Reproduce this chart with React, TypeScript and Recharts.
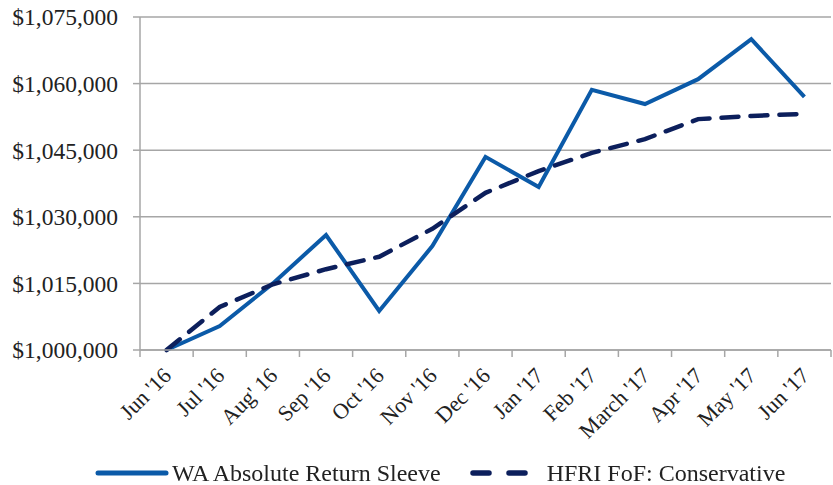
import { LineChart, Line, XAxis, YAxis, CartesianGrid, Legend } from "recharts";

const months = [
  "Jun '16", "Jul '16", "Aug' 16", "Sep '16", "Oct '16", "Nov '16", "Dec '16",
  "Jan '17", "Feb '17", "March '17", "Apr '17", "May '17", "Jun '17",
];

const waSleeve = [
  1000000, 1005400, 1015000, 1025900, 1008800, 1023400, 1043500,
  1036700, 1058600, 1055400, 1061000, 1070000, 1057000,
];

const hfriConservative = [
  1000000, 1009700, 1014800, 1018200, 1021000, 1027300, 1035400,
  1040300, 1044400, 1047500, 1052000, 1052700, 1053200,
];

const yTicks = [1000000, 1015000, 1030000, 1045000, 1060000, 1075000];

const data = months.map((m, i) => ({
  month: m,
  wa: waSleeve[i],
  hfri: hfriConservative[i],
}));

const W = 833;
const H = 485;
const LEFT = 140;
const RIGHT = 2;
const BAND = (W - LEFT - RIGHT) / months.length;
const FONT = "Liberation Serif, DejaVu Serif, serif";
const GRID = "#a6a6a6";
const BLUE = "#0b5aa8";
const NAVY = "#0c1f5c";

const fmt = (v: number) => "$" + v.toLocaleString("en-US");

function MonthTick(props: any) {
  const { x, y, payload, index } = props;
  const last = index === months.length - 1;
  const tx = x + 6;
  const ty = y + 27;
  return (
    <g>
      <line x1={x - BAND / 2} y1={y} x2={x - BAND / 2} y2={y + 7} stroke={GRID} strokeWidth={1.5} />
      {last && (
        <line x1={x + BAND / 2} y1={y} x2={x + BAND / 2} y2={y + 7} stroke={GRID} strokeWidth={1.5} />
      )}
      <text
        x={tx}
        y={ty}
        transform={`rotate(-45, ${tx}, ${ty})`}
        textAnchor="end"
        fontFamily={FONT}
        fontSize={22}
        fill="#222"
      >
        {payload.value}
      </text>
    </g>
  );
}

function renderLegend() {
  return (
    <div
      style={{
        paddingLeft: 95,
        fontFamily: FONT,
        fontSize: 24,
        color: "#222",
        lineHeight: "30px",
        whiteSpace: "nowrap",
        display: "flex",
        alignItems: "center",
      }}
    >
      <svg width={74} height={10} style={{ marginRight: 3 }}>
        <line x1={3} y1={5} x2={71} y2={5} stroke={BLUE} strokeWidth={5} strokeLinecap="round" />
      </svg>
      <span style={{ marginRight: 28 }}>WA Absolute Return Sleeve</span>
      <svg width={60} height={10} style={{ marginRight: 18 }}>
        <line
          x1={4}
          y1={5}
          x2={56}
          y2={5}
          stroke={NAVY}
          strokeWidth={5.5}
          strokeLinecap="round"
          strokeDasharray="16 20"
        />
      </svg>
      <span>HFRI FoF: Conservative</span>
    </div>
  );
}

export default function App() {
  return (
    <div style={{ position: "fixed", left: 0, top: 0, background: "#fff" }}>
      <LineChart width={W} height={H} data={data} margin={{ top: 17, right: RIGHT, left: 0, bottom: 0 }}>
        <CartesianGrid vertical={false} stroke={GRID} strokeWidth={1.5} />
        <XAxis
          dataKey="month"
          interval={0}
          height={108}
          padding={{ left: BAND / 2, right: BAND / 2 }}
          tickSize={0}
          tickMargin={0}
          tickLine={false}
          axisLine={{ stroke: GRID, strokeWidth: 1.5 }}
          tick={<MonthTick />}
        />
        <YAxis
          width={LEFT}
          domain={[1000000, 1075000]}
          ticks={yTicks}
          tickFormatter={fmt}
          tickSize={7}
          tickMargin={15}
          tickLine={{ stroke: GRID, strokeWidth: 1.5 }}
          axisLine={{ stroke: GRID, strokeWidth: 1.5 }}
          tick={{ fontFamily: FONT, fontSize: 23.5, fill: "#222" }}
        />
        <Legend verticalAlign="bottom" height={27} content={renderLegend} />
        <Line
          type="linear"
          dataKey="wa"
          stroke={BLUE}
          strokeWidth={4}
          dot={false}
          isAnimationActive={false}
        />
        <Line
          type="linear"
          dataKey="hfri"
          stroke={NAVY}
          strokeWidth={4.5}
          strokeDasharray="17 12"
          strokeLinecap="round"
          dot={false}
          isAnimationActive={false}
        />
      </LineChart>
    </div>
  );
}
